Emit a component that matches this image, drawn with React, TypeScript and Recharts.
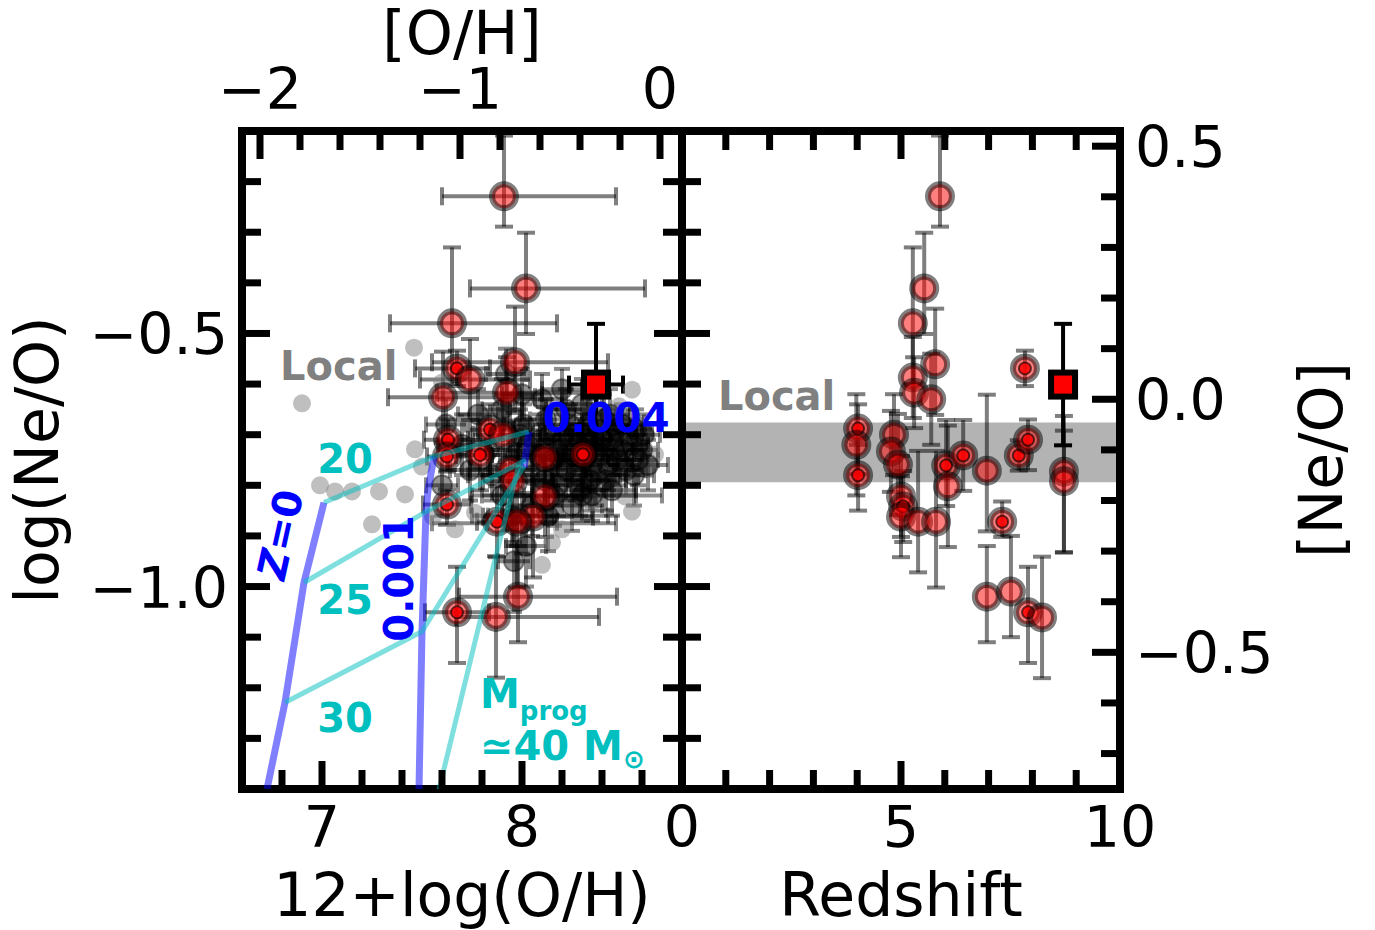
import React from "react";
import {
  ComposedChart,
  Scatter,
  XAxis,
  YAxis,
  ErrorBar,
  ReferenceArea,
  ReferenceDot,
} from "recharts";

const FONT = "DejaVu Sans";
const CYAN = "#00bfbf";
const BLUE = "#0000ff";

// solar reference values used for the relative axes
const SOLAR_OH = 8.69;
const SOLAR_NEO = -0.63;

const OH_DOMAIN = [6.6, 8.8];
const NEO_DOMAIN = [-1.4, -0.1];
const Z_DOMAIN = [0, 10];

const OH_TICKS = [6.8, 7.0, 7.2, 7.4, 7.6, 7.8, 8.0, 8.2, 8.4, 8.6];
const OH_MAJOR = [7, 8];
const OHREL_TICKS = [-2, -1.8, -1.6, -1.4, -1.2, -1, -0.8, -0.6, -0.4, -0.2, 0];
const OHREL_MAJOR = [-2, -1, 0];
const NEO_TICKS = [-1.3, -1.2, -1.1, -1.0, -0.9, -0.8, -0.7, -0.6, -0.5, -0.4, -0.3, -0.2];
const NEO_MAJOR = [-1.0, -0.5];
const NEOREL_TICKS = [0.5, 0.4, 0.3, 0.2, 0.1, 0, -0.1, -0.2, -0.3, -0.4, -0.5, -0.6, -0.7];
const NEOREL_MAJOR = [0.5, 0, -0.5];
const Z_TICKS = [0, 1, 2, 3, 4, 5, 6, 7, 8, 9, 10];
const Z_MAJOR = [0, 5, 10];

// local galaxies (grey)
const localPts = [
  { x: 6.9, y: -0.638 }, { x: 7.46, y: -0.528 }, { x: 6.99, y: -0.8 },
  { x: 7.065, y: -0.812 }, { x: 7.15, y: -0.812 }, { x: 7.285, y: -0.812 },
  { x: 7.415, y: -0.818 }, { x: 7.25, y: -0.877 }, { x: 7.465, y: -0.729 },
  { x: 7.5, y: -0.763 }, { x: 7.6, y: -0.597 }, { x: 8.55, y: -0.611 },
  { x: 8.485, y: -0.644 }, { x: 8.5, y: -0.715 }, { x: 8.515, y: -0.822 },
  { x: 8.55, y: -0.852 }, { x: 8.35, y: -0.834 }, { x: 8.2, y: -0.887 },
  { x: 8.15, y: -0.913 }, { x: 8.1, y: -0.957 }, { x: 7.765, y: -0.854 },
  { x: 7.665, y: -0.887 }, { x: 7.555, y: -0.862 }, { x: 8.415, y: -0.67 },
  { x: 8.63, y: -0.769 }, { x: 8.665, y: -0.739 }, { x: 8.39, y: -0.769 },
];

// high-z comparison sample (black)
const highzPts = [
  { x: 7.62, y: -0.68, ex: [0.1, 0.1], ey: [0.05, 0.05] },
  { x: 7.7, y: -0.72, ex: [0.12, 0.12], ey: [0.06, 0.06] },
  { x: 7.78, y: -0.66, ex: [0.1, 0.1], ey: [0.05, 0.05] },
  { x: 7.83, y: -0.73, ex: [0.15, 0.15], ey: [0.05, 0.05] },
  { x: 7.9, y: -0.65, ex: [0.1, 0.1], ey: [0.06, 0.06] },
  { x: 7.97, y: -0.74, ex: [0.12, 0.12], ey: [0.05, 0.05] },
  { x: 8.01, y: -0.68, ex: [0.1, 0.1], ey: [0.04, 0.04] },
  { x: 8.05, y: -0.78, ex: [0.12, 0.12], ey: [0.05, 0.05] },
  { x: 8.09, y: -0.71, ex: [0.1, 0.1], ey: [0.05, 0.05] },
  { x: 8.12, y: -0.67, ex: [0.08, 0.08], ey: [0.04, 0.04] },
  { x: 8.15, y: -0.75, ex: [0.1, 0.1], ey: [0.05, 0.05] },
  { x: 8.18, y: -0.8, ex: [0.12, 0.12], ey: [0.06, 0.06] },
  { x: 8.2, y: -0.71, ex: [0.1, 0.1], ey: [0.05, 0.05] },
  { x: 8.22, y: -0.65, ex: [0.1, 0.1], ey: [0.04, 0.04] },
  { x: 8.25, y: -0.74, ex: [0.1, 0.1], ey: [0.05, 0.05] },
  { x: 8.27, y: -0.78, ex: [0.12, 0.12], ey: [0.05, 0.05] },
  { x: 8.3, y: -0.7, ex: [0.08, 0.08], ey: [0.04, 0.04] },
  { x: 8.32, y: -0.73, ex: [0.1, 0.1], ey: [0.05, 0.05] },
  { x: 8.35, y: -0.76, ex: [0.12, 0.12], ey: [0.06, 0.06] },
  { x: 8.38, y: -0.69, ex: [0.1, 0.1], ey: [0.05, 0.05] },
  { x: 8.4, y: -0.74, ex: [0.12, 0.12], ey: [0.05, 0.05] },
  { x: 8.42, y: -0.79, ex: [0.1, 0.1], ey: [0.06, 0.06] },
  { x: 8.45, y: -0.71, ex: [0.1, 0.1], ey: [0.05, 0.05] },
  { x: 8.48, y: -0.75, ex: [0.12, 0.12], ey: [0.05, 0.05] },
  { x: 8.5, y: -0.68, ex: [0.1, 0.1], ey: [0.04, 0.04] },
  { x: 8.52, y: -0.77, ex: [0.1, 0.1], ey: [0.05, 0.05] },
  { x: 8.55, y: -0.72, ex: [0.08, 0.08], ey: [0.05, 0.05] },
  { x: 8.58, y: -0.75, ex: [0.1, 0.1], ey: [0.05, 0.05] },
  { x: 8.61, y: -0.7, ex: [0.08, 0.08], ey: [0.04, 0.04] },
  { x: 8.05, y: -0.84, ex: [0.15, 0.15], ey: [0.06, 0.06] },
  { x: 8.13, y: -0.86, ex: [0.3, 0.3], ey: [0.07, 0.07] },
  { x: 7.9, y: -0.82, ex: [0.15, 0.15], ey: [0.06, 0.06] },
  { x: 7.95, y: -0.86, ex: [0.2, 0.2], ey: [0.06, 0.06] },
  { x: 8.25, y: -0.84, ex: [0.15, 0.15], ey: [0.05, 0.05] },
  { x: 8.35, y: -0.82, ex: [0.22, 0.22], ey: [0.05, 0.05] },
  { x: 8.0, y: -0.62, ex: [0.1, 0.1], ey: [0.05, 0.05] },
  { x: 8.1, y: -0.63, ex: [0.1, 0.1], ey: [0.05, 0.05] },
  { x: 7.85, y: -0.78, ex: [0.12, 0.12], ey: [0.05, 0.05] },
  { x: 7.74, y: -0.77, ex: [0.1, 0.1], ey: [0.06, 0.06] },
  { x: 8.2, y: -0.61, ex: [0.1, 0.1], ey: [0.04, 0.04] },
  { x: 8.3, y: -0.64, ex: [0.1, 0.1], ey: [0.05, 0.05] },
  { x: 8.44, y: -0.66, ex: [0.1, 0.1], ey: [0.05, 0.05] },
  { x: 8.02, y: -0.92, ex: [0.1, 0.1], ey: [0.08, 0.08] },
  { x: 7.96, y: -0.95, ex: [0.08, 0.08], ey: [0.1, 0.1] },
  { x: 7.92, y: -0.58, ex: [0.1, 0.1], ey: [0.05, 0.05] },
  { x: 7.6, y: -0.8, ex: [0.08, 0.08], ey: [0.06, 0.06] },
  { x: 8.14, y: -0.7, ex: [0.1, 0.1], ey: [0.05, 0.05] },
  { x: 8.18, y: -0.73, ex: [0.12, 0.12], ey: [0.05, 0.05] },
  { x: 8.22, y: -0.77, ex: [0.1, 0.1], ey: [0.06, 0.06] },
  { x: 8.26, y: -0.7, ex: [0.1, 0.1], ey: [0.05, 0.05] },
  { x: 8.28, y: -0.72, ex: [0.12, 0.12], ey: [0.04, 0.04] },
  { x: 8.33, y: -0.68, ex: [0.1, 0.1], ey: [0.05, 0.05] },
  { x: 8.36, y: -0.71, ex: [0.08, 0.08], ey: [0.05, 0.05] },
  { x: 8.37, y: -0.78, ex: [0.12, 0.12], ey: [0.06, 0.06] },
  { x: 8.4, y: -0.71, ex: [0.1, 0.1], ey: [0.05, 0.05] },
  { x: 8.43, y: -0.76, ex: [0.12, 0.12], ey: [0.05, 0.05] },
  { x: 8.46, y: -0.73, ex: [0.1, 0.1], ey: [0.05, 0.05] },
  { x: 8.47, y: -0.69, ex: [0.1, 0.1], ey: [0.04, 0.04] },
  { x: 8.5, y: -0.73, ex: [0.12, 0.12], ey: [0.05, 0.05] },
  { x: 8.53, y: -0.7, ex: [0.1, 0.1], ey: [0.05, 0.05] },
  { x: 8.56, y: -0.78, ex: [0.1, 0.1], ey: [0.06, 0.06] },
  { x: 8.6, y: -0.73, ex: [0.08, 0.08], ey: [0.05, 0.05] },
  { x: 8.63, y: -0.76, ex: [0.1, 0.1], ey: [0.05, 0.05] },
  { x: 8.2, y: -0.75, ex: [0.1, 0.1], ey: [0.05, 0.05] },
  { x: 8.11, y: -0.79, ex: [0.12, 0.12], ey: [0.06, 0.06] },
  { x: 8.08, y: -0.74, ex: [0.1, 0.1], ey: [0.05, 0.05] },
  { x: 8.24, y: -0.68, ex: [0.1, 0.1], ey: [0.04, 0.04] },
  { x: 8.31, y: -0.75, ex: [0.12, 0.12], ey: [0.05, 0.05] },
  { x: 8.34, y: -0.79, ex: [0.1, 0.1], ey: [0.06, 0.06] },
  { x: 8.41, y: -0.67, ex: [0.1, 0.1], ey: [0.05, 0.05] },
  { x: 8.57, y: -0.69, ex: [0.08, 0.08], ey: [0.04, 0.04] },
  { x: 8.16, y: -0.82, ex: [0.15, 0.15], ey: [0.06, 0.06] },
  { x: 8.29, y: -0.81, ex: [0.12, 0.12], ey: [0.05, 0.05] },
  { x: 8.45, y: -0.81, ex: [0.12, 0.12], ey: [0.05, 0.05] },
  { x: 8.03, y: -0.72, ex: [0.1, 0.1], ey: [0.05, 0.05] },
  { x: 7.99, y: -0.7, ex: [0.1, 0.1], ey: [0.05, 0.05] },
  { x: 8.0, y: -0.875, ex: [0.45, 0.47], ey: [0.06, 0.06] },
  { x: 8.3, y: -0.82, ex: [0.5, 0.4], ey: [0.05, 0.05] },
];

// JWST galaxies vs metallicity
const redOH = [
  { x: 7.91, y: -0.229, ex: [0.31, 0.56], ey: [0.06, 0.12], kind: "ring" },
  { x: 8.02, y: -0.411, ex: [0.28, 0.595], ey: [0.09, 0.11], kind: "ring" },
  { x: 7.65, y: -0.48, ex: [0.31, 0.525], ey: [0.12, 0.15], kind: "ring" },
  { x: 7.965, y: -0.557, ex: [0.415, 0.465], ey: [0.1, 0.11], kind: "ring" },
  { x: 7.675, y: -0.569, ex: [0.21, 0.165], ey: [0.035, 0.035], kind: "dot" },
  { x: 7.74, y: -0.591, ex: [0.25, 0.3], ey: [0.08, 0.08], kind: "ring" },
  { x: 7.605, y: -0.626, ex: [0.275, 0.46], ey: [0.09, 0.09], kind: "ring" },
  { x: 7.925, y: -0.617, ex: [0.35, 0.45], ey: [0.07, 0.07], kind: "ring" },
  { x: 7.63, y: -0.71, ex: [0.12, 0.1], ey: [0.06, 0.04], kind: "dot" },
  { x: 7.84, y: -0.69, ex: [0.1, 0.12], ey: [0.09, 0.05], kind: "dot" },
  { x: 7.905, y: -0.7, ex: [0.15, 0.15], ey: [0.08, 0.08], kind: "ring" },
  { x: 7.79, y: -0.74, ex: [0.12, 0.1], ey: [0.07, 0.07], kind: "dot" },
  { x: 7.625, y: -0.743, ex: [0.1, 0.12], ey: [0.03, 0.03], kind: "dot" },
  { x: 8.115, y: -0.745, ex: [0.2, 0.2], ey: [0.1, 0.1], kind: "ring" },
  { x: 8.305, y: -0.739, ex: [0.1, 0.1], ey: [0.07, 0.07], kind: "dot" },
  { x: 7.94, y: -0.769, ex: [0.2, 0.2], ey: [0.12, 0.15], kind: "ring" },
  { x: 7.955, y: -0.792, ex: [0.15, 0.2], ey: [0.12, 0.12], kind: "ring" },
  { x: 8.115, y: -0.822, ex: [0.2, 0.25], ey: [0.08, 0.08], kind: "ring" },
  { x: 7.625, y: -0.838, ex: [0.12, 0.12], ey: [0.04, 0.03], kind: "dot" },
  { x: 8.055, y: -0.862, ex: [0.25, 0.3], ey: [0.12, 0.14], kind: "ring" },
  { x: 7.875, y: -0.872, ex: [0.1, 0.1], ey: [0.07, 0.07], kind: "dot" },
  { x: 7.975, y: -0.872, ex: [0.15, 0.2], ey: [0.13, 0.14], kind: "ring" },
  { x: 7.98, y: -1.02, ex: [0.295, 0.495], ey: [0.09, 0.1], kind: "ring" },
  { x: 7.675, y: -1.051, ex: [0.16, 0.16], ey: [0.1, 0.09], kind: "dot" },
  { x: 7.87, y: -1.06, ex: [0.2, 0.515], ey: [0.12, 0.12], kind: "ring" },
];

// JWST galaxies vs redshift
const redZ = [
  { x: 5.89, y: -0.229, ey: [0.06, 0.12], kind: "ring" },
  { x: 5.53, y: -0.411, ey: [0.09, 0.11], kind: "ring" },
  { x: 5.27, y: -0.48, ey: [0.12, 0.15], kind: "ring" },
  { x: 5.78, y: -0.561, ey: [0.1, 0.11], kind: "ring" },
  { x: 7.83, y: -0.569, ey: [0.035, 0.035], kind: "dot" },
  { x: 5.27, y: -0.587, ey: [0.08, 0.08], kind: "ring" },
  { x: 5.3, y: -0.617, ey: [0.07, 0.07], kind: "ring" },
  { x: 5.69, y: -0.63, ey: [0.09, 0.09], kind: "ring" },
  { x: 4.02, y: -0.688, ey: [0.09, 0.048], kind: "dot" },
  { x: 3.98, y: -0.72, ey: [0.1, 0.1], kind: "ring" },
  { x: 4.02, y: -0.78, ey: [0.07, 0.06], kind: "dot" },
  { x: 4.84, y: -0.7, ey: [0.08, 0.08], kind: "ring" },
  { x: 4.77, y: -0.733, ey: [0.08, 0.08], kind: "ring" },
  { x: 4.93, y: -0.759, ey: [0.1, 0.1], kind: "ring" },
  { x: 5.0, y: -0.822, ey: [0.08, 0.08], kind: "ring" },
  { x: 5.05, y: -0.842, ey: [0.07, 0.07], kind: "dot" },
  { x: 5.0, y: -0.862, ey: [0.08, 0.08], kind: "ring" },
  { x: 5.39, y: -0.872, ey: [0.1, 0.14], kind: "ring" },
  { x: 5.8, y: -0.872, ey: [0.13, 0.14], kind: "ring" },
  { x: 6.03, y: -0.761, ey: [0.08, 0.09], kind: "dot" },
  { x: 6.07, y: -0.802, ey: [0.12, 0.12], kind: "ring" },
  { x: 6.42, y: -0.741, ey: [0.07, 0.07], kind: "dot" },
  { x: 6.96, y: -0.771, ey: [0.12, 0.15], kind: "ring" },
  { x: 7.31, y: -0.872, ey: [0.03, 0.04], kind: "dot" },
  { x: 7.69, y: -0.741, ey: [0.03, 0.03], kind: "dot" },
  { x: 7.9, y: -0.71, ey: [0.06, 0.04], kind: "dot" },
  { x: 8.72, y: -0.773, ey: [0.16, 0.11], kind: "ring" },
  { x: 8.72, y: -0.792, ey: [0.14, 0.1], kind: "ring" },
  { x: 6.96, y: -1.02, ey: [0.09, 0.1], kind: "ring" },
  { x: 7.51, y: -1.01, ey: [0.09, 0.11], kind: "ring" },
  { x: 7.9, y: -1.051, ey: [0.1, 0.09], kind: "dot" },
  { x: 8.22, y: -1.061, ey: [0.12, 0.12], kind: "ring" },
];

// the new object (square)
const newOH = [{ x: 8.37, y: -0.601, ex: [0.135, 0.135], ey: [0.12, 0.12] }];
const newZ = [{ x: 8.7, y: -0.601, ey: [0.12, 0.12] }];

// chemical evolution tracks at fixed metallicity
const trackZ0 = [
  { x: 7.01, y: -0.834 }, { x: 6.91, y: -0.992 }, { x: 6.815, y: -1.229 }, { x: 6.725, y: -1.4 },
];
const trackZ001 = [
  { x: 7.56, y: -0.743 }, { x: 7.53, y: -0.81 }, { x: 7.52, y: -0.852 },
  { x: 7.5, y: -1.089 }, { x: 7.485, y: -1.4 },
];
const trackZ004 = [{ x: 8.035, y: -0.694 }, { x: 8.01, y: -0.765 }];

// lines of constant progenitor mass
const mass20 = [{ x: 7.01, y: -0.834 }, { x: 7.56, y: -0.743 }, { x: 8.035, y: -0.694 }];
const mass25 = [{ x: 6.91, y: -0.992 }, { x: 7.52, y: -0.852 }, { x: 8.02, y: -0.75 }];
const mass30 = [{ x: 6.815, y: -1.229 }, { x: 7.5, y: -1.089 }, { x: 8.01, y: -0.762 }];
const mass40 = [{ x: 7.585, y: -1.401 }, { x: 7.865, y: -0.947 }, { x: 7.985, y: -0.759 }];

// local Ne/O band
const LOCAL_BAND = [-0.794, -0.676];

const minus = (s: string) => s.replace("-", "\u2212");

type Side = "bottom" | "top" | "left" | "right";

function frameTick(side: Side, major: number[], toUnit?: (v: number) => number, fmt?: (v: number) => string) {
  return (props: any) => {
    const { x, y, payload } = props;
    const u = toUnit ? toUnit(payload.value) : payload.value;
    const isMajor = major.some((m) => Math.abs(m - u) < 1e-6);
    const len = isMajor ? 28 : 19;
    let x2 = x;
    let y2 = y;
    if (side === "bottom") y2 = y - len;
    else if (side === "top") y2 = y + len;
    else if (side === "left") x2 = x + len;
    else x2 = x - len;
    let label = null;
    if (isMajor && fmt) {
      const s = fmt(u);
      const t = { fontFamily: FONT, fontSize: 57, fill: "#000" };
      if (side === "bottom")
        label = <text x={x} y={y + 58} textAnchor="middle" {...t}>{s}</text>;
      else if (side === "top")
        label = <text x={x} y={y - 22} textAnchor="middle" {...t}>{s}</text>;
      else if (side === "left")
        label = <text x={x - 14} y={y + 21} textAnchor="end" {...t}>{s}</text>;
      else label = <text x={x + 15} y={y + 21} textAnchor="start" {...t}>{s}</text>;
    }
    return (
      <g>
        <line x1={x} y1={y} x2={x2} y2={y2} stroke="#000" strokeWidth={7} />
        {label}
      </g>
    );
  };
}

const fmtInt = (v: number) => minus(String(Math.round(v)));
const fmt1 = (v: number) => minus((Math.abs(v) < 1e-9 ? 0 : v).toFixed(1));

function AxisTitle(props: any) {
  const { viewBox, side, text } = props;
  if (!viewBox) return null;
  const { x, y, width, height } = viewBox;
  const t = { fontFamily: FONT, fontSize: 60, fill: "#000", textAnchor: "middle" as const };
  if (side === "bottom") return <text x={x + width / 2} y={y + 127} {...t}>{text}</text>;
  if (side === "top") return <text x={x + width / 2} y={y + height - 77} {...t}>{text}</text>;
  const cy = y + height / 2;
  const cx = side === "left" ? x + width - 184 : x + 222;
  return (
    <text x={cx} y={cy} transform={`rotate(-90 ${cx} ${cy})`} {...t}>
      {text}
    </text>
  );
}

const frameLine = { stroke: "#000", strokeWidth: 8, strokeLinecap: "square" as const };

const axisBase = {
  type: "number" as const,
  allowDataOverflow: true,
  tickLine: false,
  tickSize: 0,
  tickMargin: 0,
  interval: 0 as const,
  axisLine: frameLine,
};

const redShape = (p: any) => {
  const { cx, cy, payload } = p;
  if (cx == null || cy == null) return <g />;
  return (
    <g>
      <circle cx={cx} cy={cy} r={12} fill="#ff0000" fillOpacity={0.5}
        stroke="#000" strokeOpacity={0.5} strokeWidth={6} />
      {payload.kind === "dot" && (
        <circle cx={cx} cy={cy} r={6} fill="#ff0000" fillOpacity={0.85}
          stroke="#000" strokeOpacity={0.6} strokeWidth={2} />
      )}
    </g>
  );
};

const blackShape = (p: any) =>
  p.cx == null ? <g /> : (
    <circle cx={p.cx} cy={p.cy} r={10} fill="#000" fillOpacity={0.42}
      stroke="#000" strokeOpacity={0.42} strokeWidth={2} />
  );

const greyShape = (p: any) =>
  p.cx == null ? <g /> : <circle cx={p.cx} cy={p.cy} r={9} fill="#808080" fillOpacity={0.5} />;

const squareShape = (p: any) =>
  p.cx == null ? <g /> : (
    <rect x={p.cx - 12} y={p.cy - 12} width={24} height={24} fill="#ff0000" stroke="#000" strokeWidth={6} />
  );

const noShape = () => <g />;

function textShape(content: React.ReactNode, color: string, opts: { size?: number; anchor?: string; angle?: number } = {}) {
  const { size = 40, anchor = "middle", angle = 0 } = opts;
  return (p: any) => (
    <text
      x={p.cx}
      y={p.cy}
      fill={color}
      fontFamily={FONT}
      fontWeight="bold"
      fontSize={size}
      textAnchor={anchor}
      transform={angle ? `rotate(${angle} ${p.cx} ${p.cy})` : undefined}
    >
      {content}
    </text>
  );
}

const progShape = (p: any) => (
  <text x={p.cx} y={p.cy} fill={CYAN} fontFamily={FONT} fontWeight="bold" fontSize={40}>
    M
    <tspan fontSize={26} dy={12}>prog</tspan>
    <tspan x={p.cx} dy={40} fontSize={40}>{"\u224340 M"}</tspan>
    <tspan fontSize={26} dy={8}>{"\u2299"}</tspan>
  </text>
);

const greyBar = { stroke: "#000", strokeOpacity: 0.5, strokeWidth: 4, width: 9 };
const blackBar = { stroke: "#000", strokeOpacity: 0.45, strokeWidth: 4, width: 8 };
const solidBar = { stroke: "#000", strokeWidth: 4, width: 9 };

export default function App() {
  return (
    <div style={{ position: "absolute", left: 0, top: 0, width: 1375, height: 930, background: "#fff" }}>
      {/* metallicity panel */}
      <div style={{ position: "absolute", left: 0, top: 0 }}>
        <ComposedChart width={760} height={930} margin={{ top: 91, left: 202, right: 38, bottom: 101 }}>
          <Scatter data={localPts} shape={greyShape} isAnimationActive={false} />
          <Scatter data={highzPts} shape={blackShape} isAnimationActive={false}>
            <ErrorBar dataKey="ex" direction="x" {...blackBar} />
            <ErrorBar dataKey="ey" direction="y" {...blackBar} />
          </Scatter>
          <Scatter data={redOH} shape={redShape} isAnimationActive={false}>
            <ErrorBar dataKey="ex" direction="x" {...greyBar} />
            <ErrorBar dataKey="ey" direction="y" {...greyBar} />
          </Scatter>
          <Scatter data={trackZ0} shape={noShape} line={{ stroke: BLUE, strokeOpacity: 0.5, strokeWidth: 7 }} isAnimationActive={false} />
          <Scatter data={trackZ001} shape={noShape} line={{ stroke: BLUE, strokeOpacity: 0.5, strokeWidth: 7 }} isAnimationActive={false} />
          <Scatter data={trackZ004} shape={noShape} line={{ stroke: BLUE, strokeOpacity: 0.5, strokeWidth: 7 }} isAnimationActive={false} />
          <Scatter data={mass20} shape={noShape} line={{ stroke: CYAN, strokeOpacity: 0.5, strokeWidth: 5 }} isAnimationActive={false} />
          <Scatter data={mass25} shape={noShape} line={{ stroke: CYAN, strokeOpacity: 0.5, strokeWidth: 5 }} isAnimationActive={false} />
          <Scatter data={mass30} shape={noShape} line={{ stroke: CYAN, strokeOpacity: 0.5, strokeWidth: 5 }} isAnimationActive={false} />
          <Scatter data={mass40} shape={noShape} line={{ stroke: CYAN, strokeOpacity: 0.5, strokeWidth: 5 }} isAnimationActive={false} />
          <Scatter data={newOH} shape={squareShape} isAnimationActive={false}>
            <ErrorBar dataKey="ex" direction="x" {...solidBar} />
            <ErrorBar dataKey="ey" direction="y" {...solidBar} />
          </Scatter>

          <XAxis {...axisBase} dataKey="x" domain={OH_DOMAIN} ticks={OH_TICKS} height={40}
            tick={frameTick("bottom", OH_MAJOR, undefined, fmtInt)}
            label={<AxisTitle side="bottom" text="12+log(O/H)" />} />
          <XAxis {...axisBase} xAxisId="top" orientation="top" dataKey="x" domain={OH_DOMAIN}
            ticks={OHREL_TICKS.map((v) => v + SOLAR_OH)} height={40}
            tick={frameTick("top", OHREL_MAJOR, (v) => v - SOLAR_OH, fmtInt)}
            label={<AxisTitle side="top" text="[O/H]" />} />
          <YAxis {...axisBase} dataKey="y" domain={NEO_DOMAIN} ticks={NEO_TICKS} width={40}
            tick={frameTick("left", NEO_MAJOR, undefined, fmt1)}
            label={<AxisTitle side="left" text="log(Ne/O)" />} />
          <YAxis {...axisBase} yAxisId="r" orientation="right" dataKey="y" domain={NEO_DOMAIN}
            ticks={NEO_TICKS} width={40} tick={frameTick("right", NEO_MAJOR)} />

          <ReferenceDot x={6.79} y={-0.591} ifOverflow="visible" shape={textShape("Local", "#808080", { anchor: "start" })} />
          <ReferenceDot x={7.115} y={-0.775} ifOverflow="visible" shape={textShape("20", CYAN)} />
          <ReferenceDot x={7.115} y={-1.055} ifOverflow="visible" shape={textShape("25", CYAN)} />
          <ReferenceDot x={7.115} y={-1.287} ifOverflow="visible" shape={textShape("30", CYAN)} />
          <ReferenceDot x={8.105} y={-0.694} ifOverflow="visible" shape={textShape("0.004", BLUE, { anchor: "start" })} />
          <ReferenceDot x={7.455} y={-0.984} ifOverflow="visible" shape={textShape("0.001", BLUE, { angle: -90 })} />
          <ReferenceDot x={6.86} y={-0.903} ifOverflow="visible"
            shape={textShape(<><tspan fontStyle="italic">Z</tspan>=0</>, BLUE, { angle: -77.5 })} />
          <ReferenceDot x={7.79} y={-1.239} ifOverflow="visible" shape={progShape} />
        </ComposedChart>
      </div>

      {/* redshift panel */}
      <div style={{ position: "absolute", left: 600, top: 0 }}>
        <ComposedChart width={775} height={930} margin={{ top: 91, left: 42, right: 215, bottom: 101 }}>
          <ReferenceArea y1={LOCAL_BAND[0]} y2={LOCAL_BAND[1]} fill="#b3b3b3" fillOpacity={1} stroke="none" ifOverflow="hidden" />
          <Scatter data={redZ} shape={redShape} isAnimationActive={false}>
            <ErrorBar dataKey="ey" direction="y" {...greyBar} />
          </Scatter>
          <Scatter data={newZ} shape={squareShape} isAnimationActive={false}>
            <ErrorBar dataKey="ey" direction="y" {...solidBar} />
          </Scatter>

          <XAxis {...axisBase} dataKey="x" domain={Z_DOMAIN} ticks={Z_TICKS} height={40}
            tick={frameTick("bottom", Z_MAJOR, undefined, fmtInt)}
            label={<AxisTitle side="bottom" text="Redshift" />} />
          <XAxis {...axisBase} xAxisId="top" orientation="top" dataKey="x" domain={Z_DOMAIN}
            ticks={Z_TICKS} height={40} tick={frameTick("top", Z_MAJOR)} />
          <YAxis {...axisBase} dataKey="y" domain={NEO_DOMAIN} ticks={NEO_TICKS} width={40}
            tick={frameTick("left", NEO_MAJOR)} />
          <YAxis {...axisBase} yAxisId="r" orientation="right" dataKey="y" domain={NEO_DOMAIN}
            ticks={NEOREL_TICKS.map((v) => v + SOLAR_NEO)} width={40}
            tick={frameTick("right", NEOREL_MAJOR, (v) => v - SOLAR_NEO, fmt1)}
            label={<AxisTitle side="right" text="[Ne/O]" />} />

          <ReferenceDot x={0.82} y={-0.652} ifOverflow="visible" shape={textShape("Local", "#808080", { anchor: "start" })} />
        </ComposedChart>
      </div>
    </div>
  );
}
